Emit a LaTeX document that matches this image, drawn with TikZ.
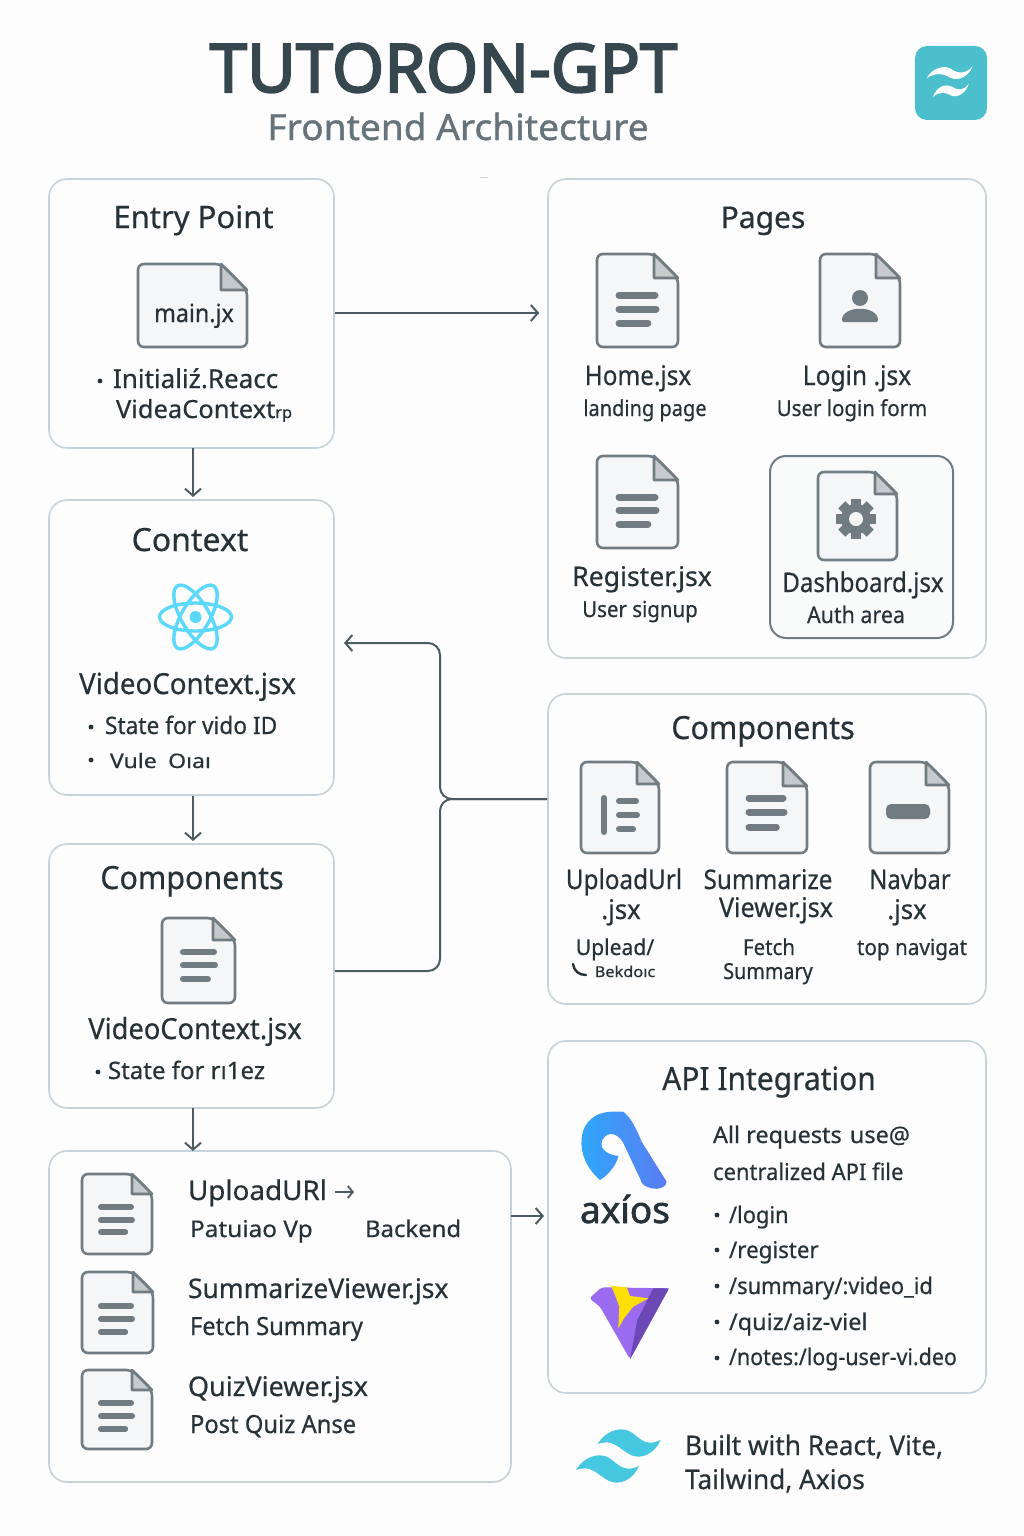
\documentclass[tikz,border=0pt]{standalone}
\usepackage{fontspec}
\setmainfont{Noto Sans}[FakeBold=0.5]
\newfontfamily\titlefont{Noto Sans}[FakeBold=3]
\newfontfamily\subfont{Noto Sans}[FakeBold=1]
\newfontfamily\logofont{Noto Sans}[FakeBold=1.5]
\usetikzlibrary{arrows.meta,calc}
\definecolor{ink}{HTML}{263238}
\definecolor{slate}{HTML}{37474F}
\definecolor{subgrey}{HTML}{66737A}
\definecolor{panelline}{HTML}{C8D2D9}
\definecolor{panelfill}{HTML}{FDFDFE}
\definecolor{iconstroke}{HTML}{707B82}
\definecolor{iconfill}{HTML}{F5F6F7}
\definecolor{foldgrey}{HTML}{C5CACC}
\definecolor{wire}{HTML}{4C5A62}
\definecolor{reactblue}{HTML}{5CD8FB}
\definecolor{twblue}{HTML}{45C8E0}
\definecolor{badge}{HTML}{4BBFCB}
\definecolor{axleft}{HTML}{2FA8FB}
\definecolor{axright}{HTML}{5A7CF0}
\definecolor{vitemain}{HTML}{9A6BEF}
\definecolor{vitedark}{HTML}{6B48B4}
\definecolor{viteyel}{HTML}{FDE003}
\tikzset{
  panel/.style={draw=panelline,fill=panelfill,line width=1.6pt,rounded corners=18pt,inner sep=0pt},
  innerpanel/.style={draw=iconstroke,fill=iconfill!60!white,line width=2pt,rounded corners=16pt,inner sep=0pt},
  textlabel/.style={inner sep=0pt,outer sep=0pt},
  conn/.style={draw=wire,line width=2pt,-{Straight Barb[length=7pt,width=16pt,line width=2pt]}},
  plainconn/.style={draw=wire,line width=2pt},
  iconline/.style={draw=iconstroke,line width=2.6pt,line join=round},
  docbar/.style={draw=iconstroke,line cap=round},
}
\newcommand{\lbl}[6][ink]{\node[textlabel,text=#1,font=\fontsize{#4}{#4}\selectfont,anchor=#5] (#2) at (#3) {#6};}
\newcommand{\sx}[2]{\scalebox{#1}[1]{#2}}
\newcommand{\fileicon}[5]{%
  \draw[iconline,fill=iconfill,rounded corners=6pt] (#1,#2) -- (#3-#5,#2) -- (#3,#2+#5) -- (#3,#4) -- (#1,#4) -- cycle;
  \draw[iconline,fill=foldgrey] (#3-#5,#2) -- (#3-#5,#2+#5) -- (#3,#2+#5) -- cycle;
}
\newcommand{\docbars}[6]{%
  \draw[docbar,line width=#6pt] (#1,#3) -- (#2-1,#3);
  \draw[docbar,line width=#6pt] (#1,#4) -- (#2,#4);
  \draw[docbar,line width=#6pt] (#1,#5) -- (#1+0.78*#2-0.78*#1,#5);
}
\newcommand{\dotat}[2]{\fill[ink] (#1,#2) circle (2.4pt);}
\newcommand{\wavepath}{(113,102) .. controls (135,65) and (175,50) .. (205,62) .. controls (235,75) and (250,115) .. (302,90) .. controls (285,130) and (245,150) .. (212,135) .. controls (175,115) and (160,85) .. (113,102) -- cycle}
\begin{document}
\begin{tikzpicture}[x=1pt,y=-1pt]
\useasboundingbox (0,0) rectangle (1024,1536);
\fill[panelfill] (0,0) rectangle (1024,1536);

% ---------- panels
\node[panel,minimum width=285pt,minimum height=269pt] (entry) at (191.5,313.5) {};
\node[panel,minimum width=285pt,minimum height=295pt] (context) at (191.5,647.5) {};
\node[panel,minimum width=285pt,minimum height=264pt] (compleft) at (191.5,976) {};
\node[panel,minimum width=462pt,minimum height=331pt] (files) at (280,1316.5) {};
\node[panel,minimum width=438pt,minimum height=479pt] (pages) at (767,418.5) {};
\node[innerpanel,minimum width=183pt,minimum height=182pt] (dash) at (861.5,547) {};
\node[panel,minimum width=438pt,minimum height=310pt] (compright) at (767,849) {};
\node[panel,minimum width=438pt,minimum height=352pt] (api) at (767,1217) {};

% ---------- connectors
\coordinate (junction) at (440,799);
\draw[conn,shorten >=8pt] (entry.east |- 0,313) -- (pages.west |- 0,313);
\draw[conn] (193,448) -- (193,497);
\draw[conn] (193,795.5) -- (193,841);
\draw[conn] (193,1108) -- (193,1151);
\draw[conn] (511,1216) -- (544,1216);
\draw[conn,rounded corners=12pt] (compright.west |- junction) -- (junction) -- (440,643) -- (344,643);
\draw[plainconn,rounded corners=12pt] (compleft.east |- 0,971) -- (440,971) -- (junction) -- (compright.west |- junction);
\draw[draw=panelline,line width=1pt] (480,177.5) -- (488,177.5);

% ---------- header
\lbl[slate]{title}{443.5,92}{67}{base}{\titlefont TUTORON-GPT}
\lbl[subgrey]{subtitle}{458,140}{36}{base}{\subfont\sx{1.03}{Frontend Architecture}}
\fill[badge,rounded corners=12pt] (915,46) rectangle (987,120);
\begin{scope}[shift={(900,35)},x=0.3333pt,y=-0.3333pt]
\fill[white] (80,130) .. controls (95,100) and (130,90) .. (150,100) .. controls (170,115) and (195,120) .. (217,95) .. controls (205,125) and (175,140) .. (150,128) .. controls (130,115) and (105,112) .. (80,130) -- cycle;
\fill[white] (98,187) .. controls (110,155) and (135,145) .. (155,155) .. controls (170,165) and (190,170) .. (207,145) .. controls (198,175) and (170,192) .. (150,180) .. controls (135,170) and (115,170) .. (98,187) -- cycle;
\end{scope}

% ---------- Entry Point
\lbl{entrytitle}{193.5,228}{31}{base}{Entry Point}
\fileicon{138}{264}{247}{347}{26}
\lbl{mainfile}{194,322}{25}{base}{\sx{.93}{main.jx}}
\dotat{100}{381}
\lbl{initline}{113,388}{26}{base west}{Initialiź.Reacc}
\lbl{ctxline}{116,418}{25}{base west}{\sx{1.02}{VideaContext{\fontsize{16}{16}\selectfont rp}}}

% ---------- Context
\lbl{contexttitle}{190,551}{32}{base}{Context}
\begin{scope}[draw=reactblue,line width=3.4pt]
\draw (195.5,617) ellipse [x radius=36,y radius=14];
\draw[rotate around={60:(195.5,617)}] (195.5,617) ellipse [x radius=36,y radius=14];
\draw[rotate around={120:(195.5,617)}] (195.5,617) ellipse [x radius=36,y radius=14];
\end{scope}
\fill[reactblue] (195.5,617) circle (6pt);
\lbl{ctxfile}{187.5,694}{29}{base}{\sx{.955}{VideoContext.jsx}}
\dotat{91}{727}
\lbl{ctxstate}{105,734}{24}{base west}{\sx{.945}{State for vido ID}}
\dotat{91}{760}
\lbl{ctxvule}{110,768}{20}{base west}{\sx{1.15}{Vule\hspace{10pt}Oıaı}}

% ---------- Components left
\lbl{compltitle}{192,889}{32}{base}{\sx{.95}{Components}}
\fileicon{162}{918}{235}{1003}{22}
\docbars{183}{215}{952}{965}{979}{6}
\lbl{complfile}{195,1039}{29}{base}{\sx{.94}{VideoContext.jsx}}
\dotat{98}{1072}
\lbl{complstate}{108,1079}{24}{base west}{State for rı1ez}

% ---------- Files panel
\fileicon{82}{1174}{152}{1254}{20}
\docbars{101}{132}{1207}{1220}{1232}{6}
\lbl{uplfile}{188,1200}{27}{base west}{\sx{1.03}{UploadURl}}
\coordinate (arrowa) at (335,1192);
\coordinate (arrowb) at (354,1192);
\draw[wire,line width=1.8pt,-{Straight Barb[length=5pt,width=12pt,line width=1.8pt]}] (arrowa) -- (arrowb);
\lbl{upldesc}{190,1237}{23}{base west}{\sx{1.06}{Patuiao Vp}}
\lbl{uplback}{365,1237}{23}{base west}{\sx{1.04}{Backend}}
\fileicon{82}{1272}{153}{1353}{20}
\docbars{101}{132}{1306}{1319}{1332}{6}
\lbl{sumfile}{188,1298}{27}{base west}{\sx{.98}{SummarizeViewer.jsx}}
\lbl{sumdesc}{190,1335}{25}{base west}{\sx{.945}{Fetch Summary}}
\fileicon{82}{1370}{152}{1449}{20}
\docbars{101}{132}{1403}{1416}{1429}{6}
\lbl{quizfile}{188,1396}{27}{base west}{QuizViewer.jsx}
\lbl{quizdesc}{190,1433}{25}{base west}{\sx{.95}{Post Quiz Anse}}

% ---------- Pages
\lbl{pagestitle}{763,228}{30}{base}{Pages}
\fileicon{597}{254}{678}{347}{24}
\docbars{619}{656}{295}{309}{323}{7}
\lbl{homefile}{638,385}{27}{base}{\sx{.90}{Home.jsx}}
\lbl{homedesc}{645,416}{22}{base}{\sx{.91}{landing page}}
\fileicon{820}{254}{900}{347}{24}
\fill[iconstroke] (860,298) circle (8pt);
\fill[iconstroke,rounded corners=2pt] (842,322) .. controls (842,305) and (878,305) .. (878,322) -- cycle;
\lbl{loginfile}{857,385}{27}{base}{\sx{.91}{Login .jsx}}
\lbl{logindesc}{852,416}{22}{base}{\sx{.93}{User login form}}
\fileicon{597}{456}{678}{548}{24}
\docbars{619}{656}{497}{510}{524}{7}
\lbl{regfile}{642,586}{27}{base}{\sx{.985}{Register.jsx}}
\lbl{regdesc}{640,617}{22}{base}{\sx{.93}{User signup}}
\fileicon{818}{472}{897}{560}{22}
\foreach \a in {0,45,...,315}{\fill[iconstroke,rotate around={\a:(856,519)}] (851,499) rectangle (861,510);}
\fill[iconstroke] (856,519) circle (15pt);
\fill[iconfill] (856,519) circle (7pt);
\lbl{dashfile}{863,592}{27}{base}{\sx{.89}{Dashboard.jsx}}
\lbl{dashdesc}{856,623}{23}{base}{\sx{.93}{Auth area}}

% ---------- Components right
\lbl{comprtitle}{763,739}{32}{base}{\sx{.95}{Components}}
\fileicon{581}{762}{659}{853}{22}
\draw[docbar,line width=6pt] (604,798) -- (604,832);
\docbars{619}{637}{801}{815}{829}{6}
\fileicon{727}{762}{807}{853}{24}
\docbars{749}{784}{798}{812}{827}{7}
\fileicon{870}{762}{949}{853}{23}
\fill[iconstroke,rounded corners=5pt] (886,804) rectangle (930,819);
\lbl{uuline}{624,889}{27}{base}{\sx{.90}{UploadUrl}}
\lbl{uujsx}{621,919}{27}{base}{\sx{.95}{.jsx}}
\lbl{svline}{768,889}{27}{base}{\sx{.90}{Summarize}}
\lbl{svjsx}{776,917}{27}{base}{\sx{.93}{Viewer.jsx}}
\lbl{nbline}{910,889}{27}{base}{\sx{.88}{Navbar}}
\lbl{nbjsx}{907,919}{27}{base}{\sx{.95}{.jsx}}
\lbl{uudesc}{615,955}{22}{base}{\sx{.96}{Uplead/}}
\coordinate (phonea) at (573,964);
\coordinate (phoneb) at (586,975);
\draw[ink,line width=2.4pt,line cap=round] (phonea) .. controls (574,971) and (579,975) .. (phoneb);
\lbl{uuback}{625,977}{15}{base}{\sx{1.09}{Bekdoıc}}
\lbl{svdesca}{769,955}{22}{base}{\sx{.93}{Fetch}}
\lbl{svdescb}{768,979}{22}{base}{\sx{.90}{Summary}}
\lbl{nbdesc}{912,955}{22}{base}{\sx{.94}{top navigat}}

% ---------- API
\lbl{apititle}{769,1090}{32}{base}{\sx{.935}{API Integration}}
\begin{scope}[shift={(550,1050)},x=0.3333pt,y=-0.3333pt]
\shade[left color=axleft,right color=axright] (150,390) .. controls (110,355) and (90,310) .. (95,265) .. controls (100,215) and (135,185) .. (190,185) -- (220,185) .. controls (245,205) and (260,240) .. (275,275) -- (350,395) .. controls (350,412) and (325,420) .. (305,415) .. controls (285,410) and (275,405) .. (270,385) -- (225,290) .. controls (210,250) and (175,240) .. (158,268) .. controls (148,290) and (160,312) .. (205,318) .. controls (200,345) and (175,375) .. (150,390) -- cycle;
\fill[vitemain,rounded corners=3pt] (118,745) -- (155,712) -- (357,715) -- (240,928) -- (150,770) -- cycle;
\fill[vitedark] (310,715) -- (357,715) -- (240,928) -- (262,810) -- cycle;
\fill[viteyel] (183,707) -- (230,712) -- (240,738) -- (295,745) -- (250,770) -- (222,805) -- (205,835) -- (208,770) -- (195,735) -- cycle;
\end{scope}
\lbl{axiosword}{625,1223}{37}{base}{\logofont axíos}
\lbl{apia}{713,1143}{23}{base west}{\sx{1.02}{All requests\hspace{8pt}use@}}
\lbl{apib}{713,1180}{23}{base west}{\sx{.955}{centralized API file}}
\dotat{717}{1215}
\lbl{ep1}{729,1223}{23}{base west}{\sx{.95}{/login}}
\dotat{717}{1250}
\lbl{ep2}{729,1258}{23}{base west}{\sx{.97}{/register}}
\dotat{717}{1286}
\lbl{ep3}{729,1294}{23}{base west}{\sx{.95}{/summary/:video\_id}}
\dotat{717}{1322}
\lbl{ep4}{729,1330}{23}{base west}{\sx{1.02}{/quiz/aiz-viel}}
\dotat{717}{1358}
\lbl{ep5}{729,1365}{23}{base west}{\sx{.93}{/notes:/log-user-vi.deo}}

% ---------- Footer
\begin{scope}[shift={(560,1410)},x=0.3333pt,y=-0.3333pt]
\fill[twblue] \wavepath;
\begin{scope}[shift={(-65,78)}]\fill[twblue] \wavepath;\end{scope}
\end{scope}
\lbl{foota}{685,1455}{27}{base west}{\sx{.97}{Built with React, Vite,}}
\lbl{footb}{685,1489}{27}{base west}{\sx{.97}{Tailwind, Axios}}
\end{tikzpicture}
\end{document}
